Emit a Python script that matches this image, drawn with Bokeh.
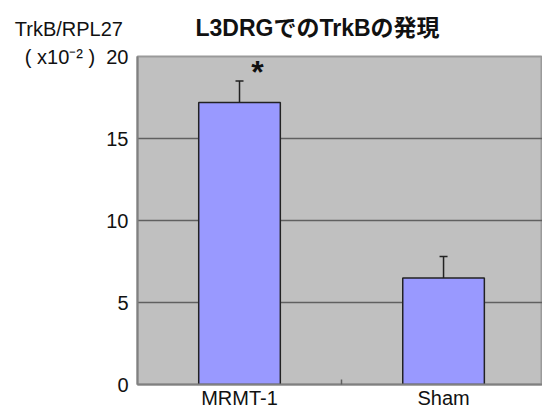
from bokeh.plotting import figure
from bokeh.models import (ColumnDataSource, FixedTicker, Label, Whisker, TeeHead,
                          Range1d)
from bokeh.embed import file_html
from bokeh.resources import INLINE

categories = ["MRMT-1", "Sham"]
values = [17.2, 6.5]
errors = [1.3, 1.3]
y_ticks = [0, 5, 10, 15, 20]
y_title = "TrkB/RPL27"
y_unit = "( x10⁻² )"
title = "L3DRGでのTrkBの発現"

xs = [i + 0.5 for i in range(len(categories))]
src = ColumnDataSource(dict(x=xs, top=values,
                            upper=[v + e for v, e in zip(values, errors)]))

FONT = "Liberation Sans"

p = figure(width=542, height=411, output_backend="svg", toolbar_location=None,
           x_range=Range1d(0, 1.985), y_range=Range1d(0, 20),
           min_border_left=137, min_border_right=0, min_border_top=54,
           min_border_bottom=26)
p.background_fill_color = "#c0c0c0"
p.border_fill_color = "white"
p.outline_line_color = "#9a9a9a"
p.outline_line_width = 2

p.title.text = title
p.title.align = "left"
p.title.offset = 58
p.title.standoff = 28
p.title.vertical_align = "top"
p.title.text_font = "Liberation Sans, Noto Sans CJK JP"
p.title.text_font_size = "23px"
p.title.text_font_style = "bold"
p.title.text_color = "#111111"

p.vbar(x="x", top="top", width=0.4, source=src, fill_color="#9999ff",
       line_color="#222222", line_width=1.5)
p.add_layout(Whisker(source=src, base="x", upper="upper", lower="top",
                     line_color="#222222", line_width=1.5,
                     upper_head=TeeHead(size=8, line_color="#222222", line_width=1.5),
                     lower_head=None))

p.xaxis.ticker = FixedTicker(ticks=xs, minor_ticks=[1.0])
p.xaxis.major_label_overrides = {x: c for x, c in zip(xs, categories)}
p.xaxis.major_tick_in = 0
p.xaxis.major_tick_out = 0
p.xaxis.minor_tick_in = 5
p.xaxis.minor_tick_out = 0
p.xaxis.minor_tick_line_color = "#606060"
p.xaxis.minor_tick_line_width = 1.5
p.xaxis.axis_line_color = "#808080"
p.xaxis.axis_line_width = 2
p.xaxis.major_label_standoff = 2
p.xaxis.major_label_text_font = FONT
p.xaxis.major_label_text_font_size = "20px"
p.xaxis.major_label_text_color = "#111111"

NB = "\u00a0"
unit_text = y_unit.replace(" ", NB)
p.yaxis.ticker = FixedTicker(ticks=y_ticks)
p.yaxis.major_label_overrides = {
    y_ticks[-1]: f"{y_title}{NB}\n{unit_text}{NB * 2}{y_ticks[-1]}\n{NB}"}
p.yaxis.major_tick_in = 0
p.yaxis.major_tick_out = 0
p.yaxis.minor_tick_line_color = None
p.yaxis.axis_line_color = "#808080"
p.yaxis.axis_line_width = 2
p.yaxis.major_label_standoff = 9
p.yaxis.major_label_text_font = FONT
p.yaxis.major_label_text_font_size = "20px"
p.yaxis.major_label_text_line_height = 1.27
p.yaxis.major_label_text_color = "#111111"

p.xgrid.grid_line_color = None
p.ygrid.grid_line_color = "#606060"
p.ygrid.grid_line_width = 1.5

p.add_layout(Label(x=120, y=313, x_units="screen", y_units="screen", text="*",
                   text_font=FONT, text_font_size="32px", text_font_style="bold",
                   text_align="center", text_baseline="alphabetic",
                   text_color="#111111"))

open("out.html", "w").write(file_html(p, INLINE))
